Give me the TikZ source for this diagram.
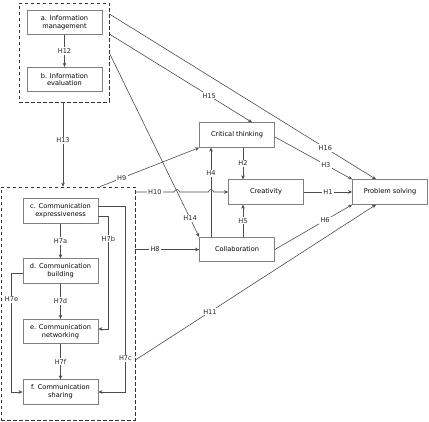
\documentclass[tikz,border=0pt]{standalone}
\usepackage{fontspec}
\setmainfont{DejaVu Sans}
\usetikzlibrary{arrows.meta}

\tikzset{
  box/.style={draw=black!50, line width=0.8pt, minimum width=75pt, minimum height=24.5pt, align=center, inner sep=1pt, font=\fontsize{6.6}{7.8}\selectfont},
  group/.style={draw=black!80, line width=0.7pt, dash pattern=on 3.5pt off 2.5pt},
  conn/.style={draw=black!70, line width=0.6pt, -{Stealth[length=4pt,width=3.6pt]}},
  hyp/.style={fill=white, inner sep=1.2pt, font=\fontsize{6.6}{7.8}\selectfont, text=black!85}
}

\begin{document}
\begin{tikzpicture}[x=1pt, y=-1pt]
\useasboundingbox (0,0) rectangle (429,422);

\node[group, minimum width=90pt, minimum height=99pt] (info) at (64,52.5) {};
\node[group, minimum width=134pt, minimum height=233pt] (comm) at (68,303.5) {};

\node[box] (im) at (64.5,22.5) {a. Information\\management};
\node[box] (ie) at (64.5,79.5) {b. Information\\evaluation};

\node[box] (ce) at (60.5,211) {c. Communication\\expressiveness};
\node[box] (cb) at (60.5,271) {d. Communication\\building};
\node[box] (cn) at (60.5,331.5) {e. Communication\\networking};
\node[box] (cs) at (60.5,392) {f. Communication\\sharing};

\node[box] (ct) at (237,135) {Critical thinking};
\node[box] (cr) at (266,192) {Creativity};
\node[box] (ps) at (390,192) {Problem solving};
\node[box] (col) at (237,249.5) {Collaboration};

\coordinate (j1a) at (174.5,192);
\coordinate (j1b) at (208.5,192);

\draw[conn] (im) -- node[hyp] {H12} (ie);
\draw[conn] ([xshift=-1pt]info.south) -- ([xshift=-1pt]info.south |- comm.north) node[hyp, pos=0.45] {H13};

\draw[conn] (ce) -- node[hyp] {H7a} (cb);
\draw[conn] (cb) -- node[hyp] {H7d} (cn);
\draw[conn] (cn) -- node[hyp] {H7f} (cs);
\draw[conn] ([yshift=-5pt]ce.east) -- ++(10,0) |- node[hyp, pos=0.1] {H7b} ([yshift=2.5pt]cn.east);
\draw[conn] ([yshift=5pt]ce.east) -- ++(27,0) |- node[hyp, pos=0.41] {H7c} (cs.east);
\draw[conn] ([yshift=-2pt]cb.west) -- ++(-11,0) |- node[hyp, pos=0.11] {H7e} (cs.west);

\draw[conn] ([yshift=18.5pt]info.east) -- node[hyp, pos=0.7] {H15} ([xshift=15pt]ct.north);
\draw[conn] ([yshift=38.5pt]info.east) -- node[hyp, pos=0.81] {H16} ([xshift=-14pt]ps.north);
\draw[conn] ([yshift=-0.5pt]info.east) -- node[hyp, pos=0.9] {H14} (col.north west);
\draw[conn] ([yshift=-2pt]ct.east) -- node[hyp, pos=0.66] {H3} (ps.north west);
\draw[conn] ([xshift=6pt]ct.south) -- node[hyp] {H2} ([xshift=6pt]ct.south |- cr.north);
\draw[conn] ([xshift=-26pt]col.north) -- node[hyp, pos=0.71] {H4} ([xshift=-26pt]col.north |- ct.south);
\draw[conn] ([xshift=6pt]col.north) -- node[hyp] {H5} ([xshift=6pt]col.north |- cr.south);
\draw[conn] (cr) -- node[hyp] {H1} (ps);
\draw[conn] (col.east) -- node[hyp, pos=0.65] {H6} (ps.south west);
\draw[conn] ([yshift=-56.5pt]comm.east) -- node[hyp, pos=0.31] {H11} ([xshift=-14pt]ps.south);
\draw[conn] (comm.east |- cr.west) -- node[hyp, pos=0.5] {H10} (j1a) arc[start angle=180, end angle=360, radius=2.5] -- (j1b) arc[start angle=180, end angle=360, radius=2.5] -- (cr.west);
\draw[conn] ([xshift=32pt]comm.north) -- node[hyp, pos=0.22] {H9} (ct.south west);
\draw[conn] (comm.east |- col.west) -- node[hyp, pos=0.31] {H8} (col.west);

\end{tikzpicture}
\end{document}
